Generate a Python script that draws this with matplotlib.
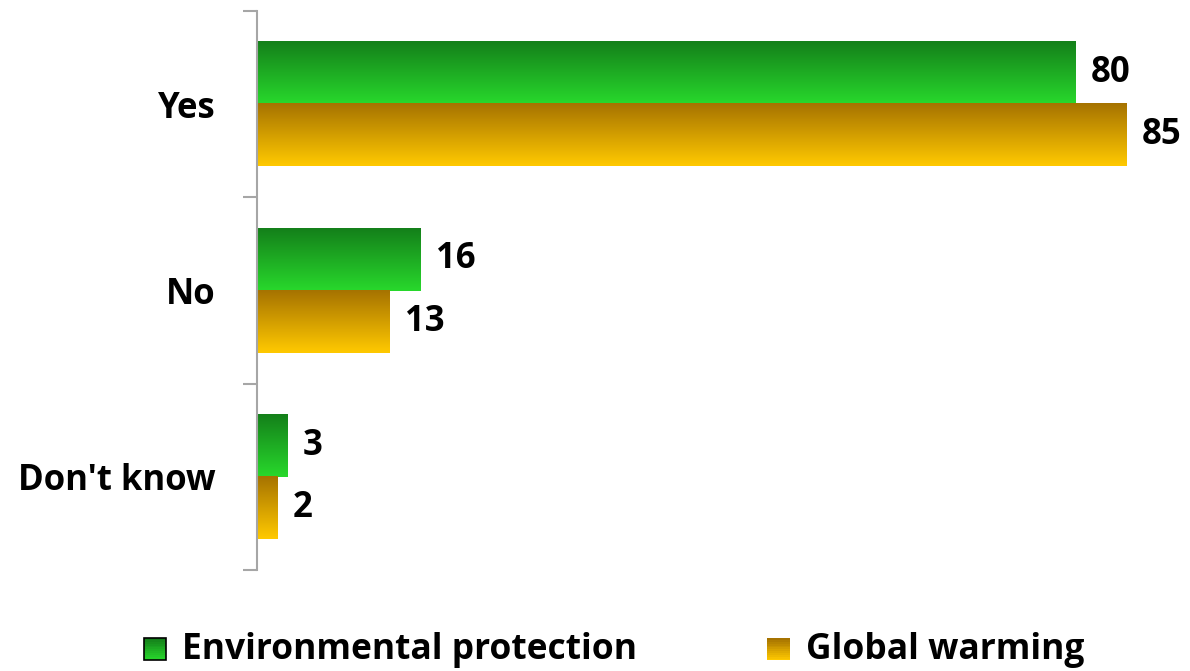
import numpy as np
import matplotlib.pyplot as plt
from matplotlib.patches import Rectangle
from matplotlib.colors import LinearSegmentedColormap
from matplotlib.legend_handler import HandlerBase

categories = ["Yes", "No", "Don't know"]
series = ["Environmental protection", "Global warming"]
env = [80, 16, 3]
glob = [85, 13, 2]

# top colour -> bottom colour of each bar gradient
grad = {
    "Environmental protection": ("#14801a", "#28d82c"),
    "Global warming": ("#a67300", "#ffc900"),
}

plt.rcParams['font.family'] = ['Open Sans', 'DejaVu Sans']
plt.rcParams['font.weight'] = 'bold'

fig = plt.figure(figsize=(11.9, 6.71), dpi=100)
ax = fig.add_axes([0.216, 0.1505, 0.784, 0.8331])

bar_h = 0.333
xmax = 91.2
fs = 25


def gradient_bar(ax, x0, y0, w, h, c_top, c_bot):
    cmap = LinearSegmentedColormap.from_list("g", [c_top, c_bot])
    img = np.linspace(0, 1, 64).reshape(-1, 1)
    ax.imshow(img, cmap=cmap, aspect='auto', extent=(x0, x0 + w, y0 + h, y0),
              origin='upper', zorder=2, interpolation='bilinear')


y = np.arange(len(categories))
for i, vals in enumerate([env, glob]):
    c_top, c_bot = grad[series[i]]
    for j, v in enumerate(vals):
        top = y[j] - bar_h + i * bar_h
        gradient_bar(ax, 0, top, v, bar_h, c_top, c_bot)
        ax.text(v + 1.5, top + bar_h / 2, str(v), va='center', ha='left',
                fontsize=fs, fontweight='bold', color='black')

ax.set_xlim(0, xmax)
ax.set_ylim(2.5, -0.5)

for s in ['top', 'right', 'bottom']:
    ax.spines[s].set_visible(False)
ax.spines['left'].set_color('#a6a6a6')
ax.spines['left'].set_linewidth(1.5)
ax.set_xticks([])
ax.set_yticks(y)
ax.set_yticklabels(categories, fontsize=fs, fontweight='bold')
ax.tick_params(axis='y', which='major', length=0, pad=30)
ax.set_yticks([-0.5, 0.5, 1.5, 2.5], minor=True)
ax.tick_params(axis='y', which='minor', length=10, width=1.5, color='#a6a6a6')


class GradientHandler(HandlerBase):
    def __init__(self, c_top, c_bot, edge):
        super().__init__()
        self.c_top, self.c_bot, self.edge = c_top, c_bot, edge

    def create_artists(self, legend, orig_handle, xdescent, ydescent,
                       width, height, fontsize, trans):
        cmap = LinearSegmentedColormap.from_list("g", [self.c_top, self.c_bot])
        side = height * 0.9
        x0 = -xdescent + width - side
        y0 = -ydescent + (height - side) / 2 - height * 0.1
        n = 12
        arts = []
        for k in range(n):
            arts.append(Rectangle((x0, y0 + side * (n - 1 - k) / n), side, side / n,
                                  facecolor=cmap(k / (n - 1)), edgecolor='none',
                                  transform=trans))
        if self.edge:
            arts.append(Rectangle((x0, y0), side, side, facecolor='none',
                                  edgecolor='black', linewidth=1.2, transform=trans))
        return arts


h1 = Rectangle((0, 0), 1, 1)
h2 = Rectangle((0, 0), 1, 1)
fig.legend([h1, h2], series, loc='center', bbox_to_anchor=(0.515, 0.031),
           ncol=2, frameon=False, columnspacing=3.6,
           handlelength=0.7, handletextpad=0.45,
           handler_map={h1: GradientHandler(*grad[series[0]], True),
                        h2: GradientHandler(*grad[series[1]], False)},
           prop={'weight': 'bold', 'size': 25.5})

fig.savefig("out.png", dpi=100)
